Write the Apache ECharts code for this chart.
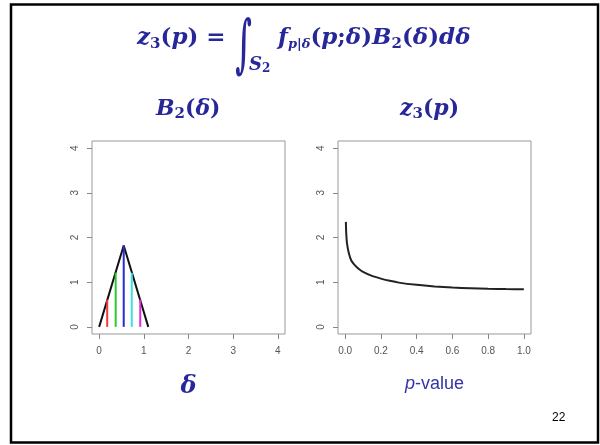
<!DOCTYPE html>
<html>
<head>
<meta charset="utf-8">
<script src="https://cdn.jsdelivr.net/npm/echarts@6/dist/echarts.min.js"></script>
<style>
html,body{margin:0;padding:0;background:#fff;}
#chart{width:600px;height:445px;}
</style>
</head>
<body>
<div id="chart"></div>
<script>
// ---- data ----
const triangleDelta = [0, 0.55, 1.1];
const triangleB2 = [0, 1.82, 0];
const spikeDelta = [0.18, 0.37, 0.55, 0.73, 0.92];
const spikeB2 = [0.61, 1.21, 1.82, 1.21, 0.61];
const pValues = [0.004, 0.006, 0.010, 0.020, 0.035, 0.050, 0.075, 0.10, 0.15, 0.20, 0.25, 0.30, 0.40, 0.50, 0.60, 0.70, 0.80, 0.90, 1.00];
const z3Values = [2.35, 2.10, 1.88, 1.66, 1.48, 1.40, 1.30, 1.23, 1.14, 1.08, 1.03, 0.99, 0.94, 0.905, 0.88, 0.865, 0.852, 0.845, 0.84];
const deltaTicks = [0, 1, 2, 3, 4];
const yTicks = [0, 1, 2, 3, 4];
const pTicks = [0, 0.2, 0.4, 0.6, 0.8, 1.0];
const spikeColors = ['#ee3a3a', '#2ec82e', '#2a2ad0', '#3ae0e0', '#dd2add'];

const MATH = '#27279a';
const SERIF = '"DejaVu Serif", "Liberation Serif", serif';
const SANS = '"Liberation Sans", Arial, sans-serif';

const chart = echarts.init(document.getElementById('chart'), null, {renderer: 'canvas'});

function baseRich(size) {
  return {
    m: {fontFamily: SERIF, fontStyle: 'italic', fontWeight: 'bold', fontSize: size, color: MATH},
    r: {fontFamily: SERIF, fontWeight: 'bold', fontSize: size, color: MATH},
    s: {fontFamily: SERIF, fontWeight: 'bold', fontSize: Math.round(size * 0.66), color: MATH, padding: [Math.round(size * 0.5), 0, 0, 0]},
    ps: {fontFamily: SERIF, fontStyle: 'italic', fontWeight: 'bold', fontSize: 13, color: MATH, padding: [12, 0, 0, 0]}
  };
}

const axisTickStyle = {show: true, inside: false, length: 5, lineStyle: {color: '#888', width: 1}};
const axisLabelStyle = {color: '#555', fontSize: 10, fontFamily: SANS};

function xAxisDef(gridIndex, min, max, ticks, fmt, name, nameStyle) {
  return {
    type: 'value', gridIndex, min, max,
    axisLine: {show: false, onZero: false},
    splitLine: {show: false},
    axisTick: Object.assign({customValues: ticks}, axisTickStyle),
    axisLabel: Object.assign({customValues: ticks, formatter: fmt, margin: 12}, axisLabelStyle),
    name, nameLocation: 'middle', nameGap: 41, nameTextStyle: nameStyle
  };
}
function yAxisDef(gridIndex) {
  return {
    type: 'value', gridIndex, min: -0.16, max: 4.16,
    axisLine: {show: false, onZero: false},
    splitLine: {show: false},
    axisTick: Object.assign({customValues: yTicks}, axisTickStyle),
    axisLabel: Object.assign({customValues: yTicks, rotate: 90, margin: 12}, axisLabelStyle)
  };
}

const spikeSeries = spikeDelta.map((d, i) => ({
  type: 'line', xAxisIndex: 0, yAxisIndex: 0,
  data: [[d, 0], [d, spikeB2[i]]],
  symbol: 'none', z: 4,
  lineStyle: {color: spikeColors[i], width: 2}
}));

const option = {
  animation: false,
  backgroundColor: '#fff',
  title: [
    { // left part of the formula
      left: 137, top: 25, padding: 0,
      text: '{m|z}{s|3}{r|(}{m|p}{r|) =}',
      textStyle: {rich: baseRich(23)}
    },
    { // integral domain
      left: 249, top: 55, padding: 0,
      text: '{S|S}{S2|2}',
      textStyle: {rich: {
        S: {fontFamily: SERIF, fontStyle: 'italic', fontWeight: 'bold', fontSize: 18, color: MATH},
        S2: {fontFamily: SERIF, fontWeight: 'bold', fontSize: 12, color: MATH, padding: [8, 0, 0, 0]}
      }}
    },
    { // integrand
      left: 278, top: 25, padding: 0,
      text: '{m|f}{ps|p|δ}{r|(}{m|p}{r|;}{m|δ}{r|)}{m|B}{s|2}{r|(}{m|δ}{r|)}{m|d}{m|δ}',
      textStyle: {rich: baseRich(23)}
    },
    {
      left: 156, top: 96, padding: 0,
      text: '{m|B}{s|2}{r|(}{m|δ}{r|)}',
      textStyle: {rich: baseRich(22)}
    },
    {
      left: 400, top: 96, padding: 0,
      text: '{m|z}{s|3}{r|(}{m|p}{r|)}',
      textStyle: {rich: baseRich(22)}
    },
    {
      left: 552, top: 412, padding: 0,
      text: '22',
      textStyle: {fontFamily: SANS, fontSize: 12, fontWeight: 'normal', color: '#000'}
    }
  ],
  grid: [
    {left: 92, top: 141, width: 193, height: 193, show: true, borderColor: '#999', borderWidth: 1, backgroundColor: '#fff', outerBoundsMode: 'none'},
    {left: 338, top: 141, width: 193, height: 193, show: true, borderColor: '#999', borderWidth: 1, backgroundColor: '#fff', outerBoundsMode: 'none'}
  ],
  xAxis: [
    xAxisDef(0, -0.16, 4.16, deltaTicks, v => String(v), 'δ',
      {fontFamily: SERIF, fontStyle: 'italic', fontWeight: 'bold', fontSize: 24, color: MATH}),
    xAxisDef(1, -0.04, 1.04, pTicks, v => v.toFixed(1), '{i|p}{n|-value}',
      {rich: {
        i: {fontFamily: SANS, fontStyle: 'italic', fontSize: 18, color: '#3434aa'},
        n: {fontFamily: SANS, fontSize: 18, color: '#3434aa'}
      }})
  ],
  yAxis: [yAxisDef(0), yAxisDef(1)],
  series: [
    {
      type: 'line', xAxisIndex: 0, yAxisIndex: 0, z: 3,
      data: triangleDelta.map((d, i) => [d, triangleB2[i]]),
      symbol: 'none', lineStyle: {color: '#111', width: 2}
    },
    ...spikeSeries,
    {
      type: 'line', xAxisIndex: 1, yAxisIndex: 1, z: 3,
      data: pValues.map((p, i) => [p, z3Values[i]]),
      symbol: 'none', smooth: 0.2, lineStyle: {color: '#222', width: 2}
    }
  ],
  graphic: [
    {type: 'text', x: 243.5, y: 49, scaleX: 0.55, scaleY: 1.22, z: 100, silent: true,
     style: {text: '∫', fontSize: 52, fontFamily: SERIF, fontWeight: 'bold', fill: MATH,
             align: 'center', verticalAlign: 'middle', textAlign: 'center', textVerticalAlign: 'middle'}},
    {type: 'rect', z: 100, silent: true,
     shape: {x: 11, y: 4.5, width: 587, height: 438},
     style: {fill: 'none', stroke: '#000', lineWidth: 2.5}}
  ]
};
chart.setOption(option);
</script>
</body>
</html>
